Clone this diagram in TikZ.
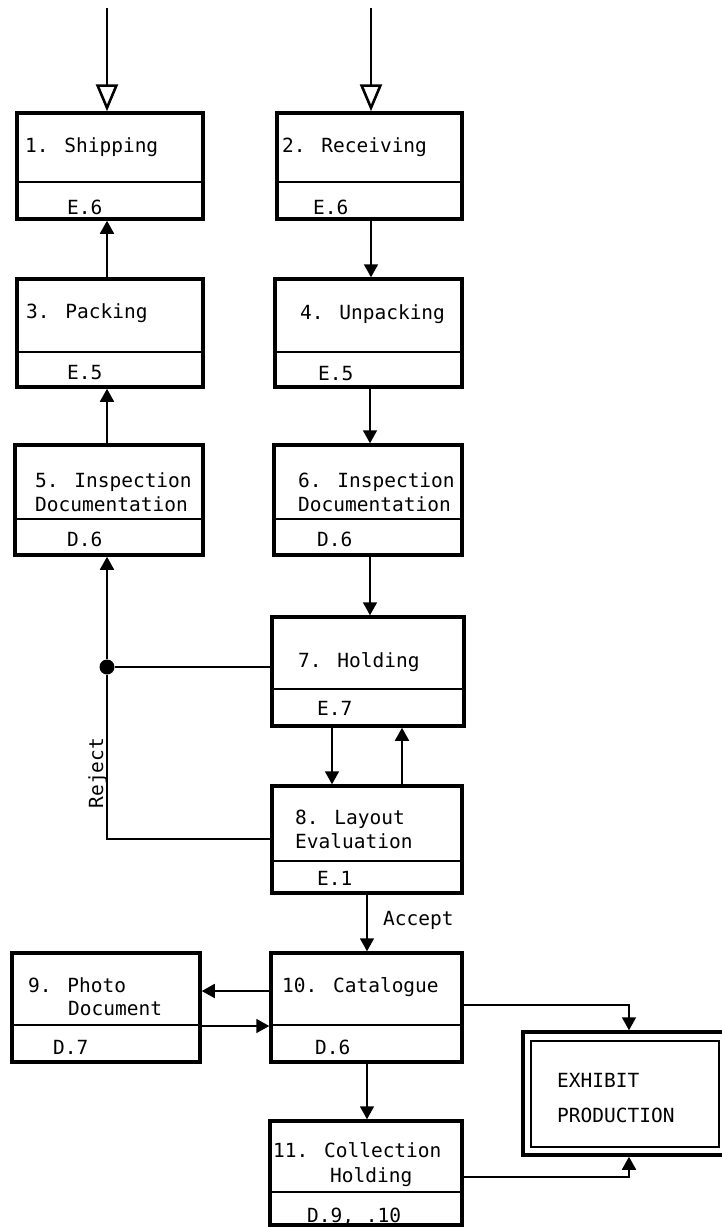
\documentclass[tikz,border=0pt]{standalone}
\usepackage{fontspec}
\setmainfont{DejaVu Sans Mono}
\usetikzlibrary{arrows.meta}
\tikzset{
  procbox/.style={draw, line width=3.5pt, inner sep=0pt},
  divline/.style={line width=2.2pt},
  lbl/.style={anchor=base west, inner sep=0pt, font=\fontsize{19.5}{22}\selectfont},
  conn/.style={line width=1.8pt},
  arr/.style={line width=1.8pt, -{Triangle[width=14pt,length=13pt]}},
  inarr/.style={line width=2.6pt, -{Triangle[open,width=22pt,length=27pt]}},
}
\begin{document}
\begin{tikzpicture}[x=1pt,y=-1pt]
\useasboundingbox (0,0) rectangle (722,1227);
% boxes
\node[procbox, minimum width=186pt, minimum height=106pt] (b1) at (110,166) {};
\node[procbox, minimum width=185pt, minimum height=106pt] (b2) at (369.5,166) {};
\node[procbox, minimum width=186pt, minimum height=108pt] (b3) at (110,333) {};
\node[procbox, minimum width=187pt, minimum height=108pt] (b4) at (368.5,333) {};
\node[procbox, minimum width=188pt, minimum height=110pt] (b5) at (109,500) {};
\node[procbox, minimum width=188pt, minimum height=110pt] (b6) at (368,500) {};
\node[procbox, minimum width=192pt, minimum height=109pt] (b7) at (368,671.5) {};
\node[procbox, minimum width=190pt, minimum height=107pt] (b8) at (367,839.5) {};
\node[procbox, minimum width=188pt, minimum height=109pt] (b9) at (106,1007.5) {};
\node[procbox, minimum width=191pt, minimum height=109pt] (b10) at (366.5,1007.5) {};
\node[procbox, minimum width=192pt, minimum height=104pt] (b11) at (366,1173) {};
% dividers
\draw[divline] (b1.west |- 0,182) -- (b1.east |- 0,182);
\draw[divline] (b2.west |- 0,182) -- (b2.east |- 0,182);
\draw[divline] (b3.west |- 0,352) -- (b3.east |- 0,352);
\draw[divline] (b4.west |- 0,352) -- (b4.east |- 0,352);
\draw[divline] (b5.west |- 0,519) -- (b5.east |- 0,519);
\draw[divline] (b6.west |- 0,519) -- (b6.east |- 0,519);
\draw[divline] (b7.west |- 0,689) -- (b7.east |- 0,689);
\draw[divline] (b8.west |- 0,861) -- (b8.east |- 0,861);
\draw[divline] (b9.west |- 0,1025) -- (b9.east |- 0,1025);
\draw[divline] (b10.west |- 0,1025) -- (b10.east |- 0,1025);
\draw[divline] (b11.west |- 0,1192) -- (b11.east |- 0,1192);
% exhibit production
\node[procbox, minimum width=209pt, minimum height=123pt] (ex) at (627.5,1093.5) {};
\node[draw, line width=1.3pt, minimum width=188pt, minimum height=106pt, inner sep=0pt] (exin) at (625,1094) {};
% titles
\node[lbl] (t1) at (25,152) {1. Shipping};
\node[lbl] (t2) at (282,152) {2. Receiving};
\node[lbl] (t3) at (26,318) {3. Packing};
\node[lbl] (t4) at (300,319) {4. Unpacking};
\node[lbl] (t5a) at (35,487) {5. Inspection};
\node[lbl] (t5b) at (35,511) {Documentation};
\node[lbl] (t6a) at (298,487) {6. Inspection};
\node[lbl] (t6b) at (298,511) {Documentation};
\node[lbl] (t7) at (298,667) {7. Holding};
\node[lbl] (t8a) at (295,824) {8. Layout};
\node[lbl] (t8b) at (295,848) {Evaluation};
\node[lbl] (t9a) at (28,992) {9. Photo};
\node[lbl] (t9b) at (68,1015) {Document};
\node[lbl] (t10) at (282,992) {10. Catalogue};
\node[lbl] (t11a) at (273,1157) {11. Collection};
\node[lbl] (t11b) at (330,1182) {Holding};
% codes
\node[lbl] (c1) at (67,214) {E.6};
\node[lbl] (c2) at (313,214) {E.6};
\node[lbl] (c3) at (67,379) {E.5};
\node[lbl] (c4) at (318,380) {E.5};
\node[lbl] (c5) at (67,546) {D.6};
\node[lbl] (c6) at (317,546) {D.6};
\node[lbl] (c7) at (317,715) {E.7};
\node[lbl] (c8) at (317,885) {E.1};
\node[lbl] (c9) at (53,1054) {D.7};
\node[lbl] (c10) at (315,1054) {D.6};
\node[lbl] (c11) at (307,1222) {D.9, .10};
\node[lbl] (ex1) at (557,1087) {EXHIBIT};
\node[lbl] (ex2) at (557,1122) {PRODUCTION};
% input arrows
\coordinate (in1) at (107,8);
\coordinate (in2) at (371,8);
\draw[inarr] (in1) -- (b1.north -| in1);
\draw[inarr] (in2) -- (b2.north -| in2);
% flow arrows
\draw[arr] (b2.south -| 371,0) -- (b4.north -| 371,0);
\draw[arr] (b3.north -| 107,0) -- (b1.south -| 107,0);
\draw[arr] (b4.south -| 370,0) -- (b6.north -| 370,0);
\draw[arr] (b5.north -| 107,0) -- (b3.south -| 107,0);
\draw[arr] (b6.south -| 370,0) -- (b7.north -| 370,0);
% junction and reject
\node[circle, fill, inner sep=0pt, minimum size=15pt] (dot) at (107,667) {};
\draw[conn] (b7.west |- dot) -- (dot);
\draw[arr] (dot) -- (b5.south -| dot);
\draw[conn] (b8.west |- 0,839) -| (dot);
\node[anchor=base, rotate=90, inner sep=0pt, font=\fontsize{19.5}{22}\selectfont] (rej) at (103,773) {Reject};
% holding / layout
\draw[arr] (b7.south -| 332,0) -- (b8.north -| 332,0);
\draw[arr] (b8.north -| 402,0) -- (b7.south -| 402,0);
\draw[arr] (b8.south -| 367,0) -- (b10.north -| 367,0);
\node[lbl] (acc) at (383,925) {Accept};
% catalogue
\draw[arr] (b10.west |- 0,991) -- (b9.east |- 0,991);
\draw[arr] (b9.east |- 0,1026) -- (b10.west |- 0,1026);
\draw[arr] (b10.south -| 367,0) -- (b11.north -| 367,0);
\draw[arr] (b10.east |- 0,1005) -| (ex.north -| 629,0);
\draw[arr] (b11.east |- 0,1177) -| (ex.south -| 629,0);
\end{tikzpicture}
\end{document}
